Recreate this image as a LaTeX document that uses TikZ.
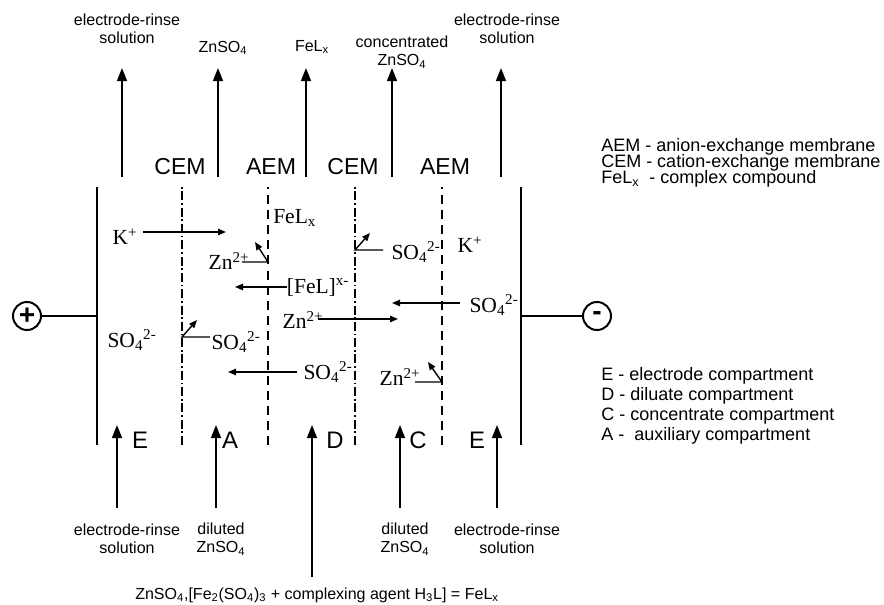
\documentclass[tikz,border=0pt]{standalone}
\usepackage{fontspec}
\setmainfont{Liberation Serif}
\setsansfont{Liberation Sans}
\usetikzlibrary{arrows.meta}
\tikzset{
 flow/.style={-{Triangle[length=3.3mm,width=2.5mm]}, line width=1.4pt},
 ion/.style={-{Triangle[length=2mm,width=1.6mm]}, line width=1pt},
 electrode/.style={line width=1.9pt},
 cem/.style={line width=1.3pt, dash pattern=on 6.4pt off 2pt on 1.2pt off 2pt},
 aem/.style={line width=1.3pt, dash pattern=on 6.4pt off 4.3pt},
 lbl/.style={font=\sffamily\fontsize{11.4}{12.8}\selectfont, align=center, inner sep=0pt},
 legend/.style={font=\sffamily\fontsize{12.8}{14}\selectfont, inner sep=0pt, anchor=base west},
 memlbl/.style={font=\sffamily\fontsize{16.4}{18}\selectfont, inner sep=0pt},
 comp/.style={font=\sffamily\fontsize{17}{19}\selectfont, inner sep=0pt},
 ionlbl/.style={font=\fontsize{15.3}{17}\selectfont, inner sep=0pt},
 pole/.style={draw, circle, line width=1.4pt, minimum size=0.7cm, inner sep=0pt,
   font=\sffamily\bfseries\fontsize{20}{20}\selectfont}
}
\begin{document}
\begin{tikzpicture}[>=stealth]
 \useasboundingbox (0,0) rectangle (22.1,15.125);
 % electrodes and membranes
 \draw[electrode] (2.425,4) -- (2.425,10.45);
 \draw[electrode] (13.025,4) -- (13.025,10.45);
 \draw[cem] (4.55,4) -- (4.55,10.45);
 \draw[aem] (6.7,4) -- (6.7,10.45);
 \draw[cem] (8.875,4) -- (8.875,10.45);
 \draw[aem] (11.05,4) -- (11.05,10.45);
 \node[memlbl] (cem1) at (4.5,10.95) {CEM};
 \node[memlbl] (aem1) at (6.775,10.95) {AEM};
 \node[memlbl] (cem2) at (8.825,10.95) {CEM};
 \node[memlbl] (aem2) at (11.125,10.95) {AEM};
 % poles
 \node[pole] (plus) at (0.675,7.225) {+};
 \node[pole] (minus) at (14.925,7.225) {-};
 \draw[line width=1.4pt] (plus) -- (2.425,7.225);
 \draw[line width=1.4pt] (minus) -- (13.025,7.225);
 % outlets
 \draw[flow] (3.05,10.7) -- (3.05,13.425);
 \draw[flow] (5.45,10.7) -- (5.45,13.425);
 \draw[flow] (7.65,10.7) -- (7.65,13.425);
 \draw[flow] (9.8,10.7) -- (9.8,13.425);
 \draw[flow] (12.525,10.7) -- (12.525,13.425);
 \node[lbl] (outE1) at (3.175,14.4) {electrode-rinse\\solution};
 \node[lbl] (outA) at (5.575,13.925) {ZnSO\textsubscript{4}};
 \node[lbl] (outD) at (7.8,13.95) {FeL\textsubscript{x}};
 \node[lbl] (outC) at (10.05,13.825) {concentrated\\ZnSO\textsubscript{4}};
 \node[lbl] (outE2) at (12.675,14.4) {electrode-rinse\\solution};
 % inlets
 \draw[flow] (2.925,2.425) -- (2.925,4.5);
 \draw[flow] (5.4,2.425) -- (5.4,4.5);
 \draw[flow] (7.8,0.7) -- (7.8,4.5);
 \draw[flow] (10,2.425) -- (10,4.5);
 \draw[flow] (12.425,2.425) -- (12.425,4.5);
 \node[lbl] (inE1) at (3.175,1.65) {electrode-rinse\\solution};
 \node[lbl] (inA) at (5.525,1.65) {diluted\\ZnSO\textsubscript{4}};
 \node[lbl] (inC) at (10.125,1.65) {diluted\\ZnSO\textsubscript{4}};
 \node[lbl] (inE2) at (12.675,1.65) {electrode-rinse\\solution};
 \node[lbl] (feed) at (7.925,0.25) {ZnSO\textsubscript{4},[Fe\textsubscript{2}(SO\textsubscript{4})\textsubscript{3} + complexing agent H\textsubscript{3}L] = FeL\textsubscript{x}};
 % compartments
 \node[comp] (cE1) at (3.5,4.125) {E};
 \node[comp] (cA) at (5.75,4.125) {A};
 \node[comp] (cD) at (8.375,4.125) {D};
 \node[comp] (cC) at (10.45,4.125) {C};
 \node[comp] (cE2) at (11.925,4.125) {E};
 % ions
 \node[ionlbl] (kE1) at (3.125,9.2) {K\textsuperscript{+}};
 \draw[ion] (3.575,9.325) -- (5.65,9.325);
 \node[ionlbl] (soE1) at (3.3,6.625) {SO\textsubscript{4}\textsuperscript{2-}};
 \node[ionlbl] (znA) at (5.725,8.6) {Zn\textsuperscript{2+}};
 \draw[ion] (6.05,8.575) -- (6.7,8.575) -- (6.375,9.075);
 \node[ionlbl] (soA) at (5.9,6.575) {SO\textsubscript{4}\textsuperscript{2-}};
 \draw[ion] (5.25,6.7) -- (4.55,6.7) -- (4.925,7.125);
 \node[ionlbl] (feld) at (7.95,7.95) {[FeL]\textsuperscript{x-}};
 \draw[ion] (feld.west) -- (5.875,7.95);
 \node[ionlbl, anchor=west] (felx) at (6.825,9.675) {FeL\textsubscript{x}};
 \node[ionlbl] (znD) at (7.575,7.125) {Zn\textsuperscript{2+}};
 \draw[ion] (7.95,7.15) -- (9.95,7.15);
 \node[ionlbl] (soD) at (8.2,5.825) {SO\textsubscript{4}\textsuperscript{2-}};
 \draw[ion] (7.425,5.825) -- (5.7,5.825);
 \node[ionlbl] (soC) at (10.4,8.825) {SO\textsubscript{4}\textsuperscript{2-}};
 \draw[ion] (9.575,8.875) -- (8.875,8.875) -- (9.25,9.3);
 \node[ionlbl] (znC) at (10,5.7) {Zn\textsuperscript{2+}};
 \draw[ion] (10.375,5.575) -- (11.05,5.575) -- (10.7,6.075);
 \node[ionlbl] (soE2) at (12.35,7.5) {SO\textsubscript{4}\textsuperscript{2-}};
 \draw[ion] (11.5,7.55) -- (9.8,7.55);
 \node[ionlbl] (kE2) at (11.75,9) {K\textsuperscript{+}};
 % legend
 \node[legend] (lgA) at (15.025,11.325) {AEM - anion-exchange membrane};
 \node[legend] (lgC) at (15.025,10.925) {CEM - cation-exchange membrane};
 \node[legend] (lgF) at (15.025,10.525) {FeL\textsubscript{x}\ \ - complex compound};
 \node[legend] (lgE) at (15.025,5.6) {E - electrode compartment};
 \node[legend] (lgD) at (15.025,5.1) {D - diluate compartment};
 \node[legend] (lgCC) at (15.025,4.6) {C - concentrate compartment};
 \node[legend] (lgAA) at (15.025,4.1) {A -\ \ auxiliary compartment};
\end{tikzpicture}
\end{document}
